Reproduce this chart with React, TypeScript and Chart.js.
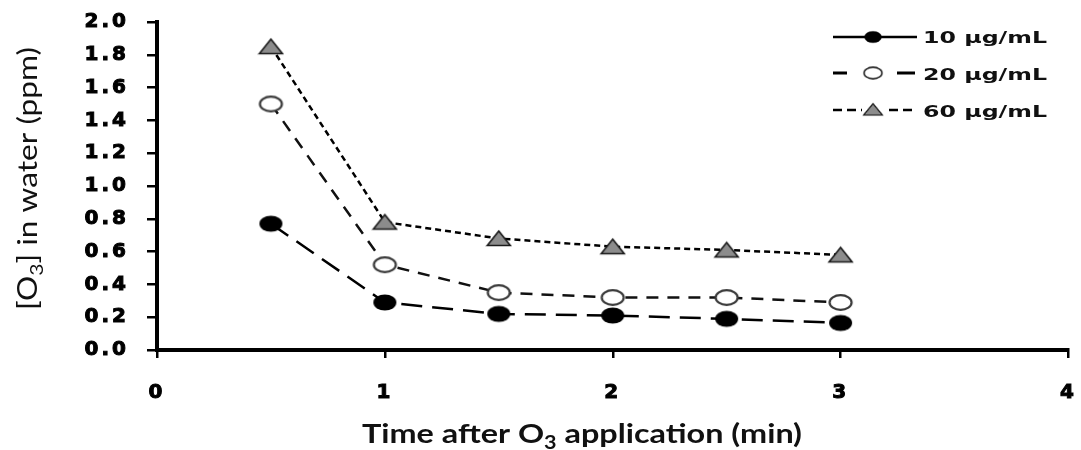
import React, { useEffect, useRef } from 'react';
import { Chart, registerables } from 'chart.js';

Chart.register(...registerables);

// ---- data ----
const timePoints = [0.5, 1, 1.5, 2, 2.5, 3];
const seriesLabels = ['10 µg/mL', '20 µg/mL', '60 µg/mL'];
const conc10 = [0.77, 0.29, 0.22, 0.21, 0.19, 0.165];
const conc20 = [1.5, 0.52, 0.35, 0.32, 0.32, 0.29];
const conc60 = [1.85, 0.78, 0.68, 0.63, 0.61, 0.58];
const xRange = [0, 4];
const xStep = 1;
const yRange = [0, 2];
const yStep = 0.2;
const xTitleParts = [{ t: 'Time after O' }, { t: '3', sub: true }, { t: ' application (min)' }];
const yTitleParts = [{ t: '[O' }, { t: '3', sub: true }, { t: '] in water (ppm)' }];

type Part = { t: string; sub?: boolean };

function makeMarker(kind: 'filled' | 'open' | 'tri'): HTMLCanvasElement {
  const c = document.createElement('canvas');
  c.width = 27;
  c.height = 19;
  const g = c.getContext('2d')!;
  g.beginPath();
  if (kind === 'tri') {
    g.moveTo(2, 16.5);
    g.lineTo(13.5, 2);
    g.lineTo(25, 16.5);
    g.closePath();
    g.fillStyle = '#8c8c8c';
    g.fill();
    g.lineWidth = 1.6;
    g.strokeStyle = '#1a1a1a';
    g.stroke();
  } else if (kind === 'filled') {
    g.ellipse(13.5, 9.5, 11.5, 8, 0, 0, Math.PI * 2);
    g.fillStyle = '#000';
    g.fill();
  } else {
    g.ellipse(13.5, 9.5, 11, 7.3, 0, 0, Math.PI * 2);
    g.fillStyle = '#fff';
    g.fill();
    g.lineWidth = 2.2;
    g.strokeStyle = '#3a3a3a';
    g.stroke();
  }
  return c;
}

function drawRich(ctx: CanvasRenderingContext2D, parts: Part[], size: number, weight: string, family: string, targetWidth: number) {
  const main = `${weight} ${size}px ${family}`;
  const sub = `${weight} ${Math.round(size * 0.65)}px ${family}`;
  let w = 0;
  for (const p of parts) {
    ctx.font = p.sub ? sub : main;
    w += ctx.measureText(p.t).width;
  }
  const s = targetWidth / w;
  ctx.save();
  ctx.scale(s, 1);
  let x = 0;
  for (const p of parts) {
    ctx.font = p.sub ? sub : main;
    ctx.fillText(p.t, x, p.sub ? size * 0.22 : 0);
    x += ctx.measureText(p.t).width;
  }
  ctx.restore();
}

export default function App() {
  const ref = useRef<HTMLCanvasElement>(null);

  useEffect(() => {
    const canvas = ref.current!;
    const mk = { filled: makeMarker('filled'), open: makeMarker('open'), tri: makeMarker('tri') };

    const decor = {
      id: 'decor',
      beforeDraw(chart: any) {
        (chart.ctx as any).letterSpacing = '3px';
      },
      beforeDatasetsDraw(chart: any) {
        (chart.ctx as any).letterSpacing = '0px';
      },
      afterDraw(chart: any) {
        const ctx: CanvasRenderingContext2D = chart.ctx;
        (ctx as any).letterSpacing = '0px';
        ctx.save();
        ctx.fillStyle = '#111';
        ctx.textBaseline = 'alphabetic';
        ctx.textAlign = 'left';
        // x title
        ctx.save();
        ctx.translate(362, 443);
        drawRich(ctx, xTitleParts, 27, 'bold', 'Lato', 440);
        ctx.restore();
        // y title
        ctx.save();
        ctx.translate(37, 310);
        ctx.rotate(-Math.PI / 2);
        drawRich(ctx, yTitleParts, 27, 'normal', 'Lato', 263);
        ctx.restore();

        // legend
        const rows = [37, 73, 110];
        const bases = [43, 80, 117];
        ctx.strokeStyle = '#000';
        ctx.lineCap = 'butt';
        // row 1 solid
        ctx.lineWidth = 2.5;
        ctx.setLineDash([]);
        ctx.beginPath();
        ctx.moveTo(833, rows[0]);
        ctx.lineTo(917, rows[0]);
        ctx.stroke();
        ctx.drawImage(mk.filled, 873 - 10, rows[0] - 7, 20, 14);
        // row 2
        ctx.lineWidth = 3;
        ctx.beginPath();
        ctx.moveTo(833, rows[1]);
        ctx.lineTo(847, rows[1]);
        ctx.moveTo(897, rows[1]);
        ctx.lineTo(915, rows[1]);
        ctx.stroke();
        ctx.drawImage(mk.open, 873 - 11, rows[1] - 7.5, 22, 15);
        // row 3
        ctx.lineWidth = 2.5;
        ctx.setLineDash([9, 5]);
        ctx.beginPath();
        ctx.moveTo(833, rows[2]);
        ctx.lineTo(917, rows[2]);
        ctx.stroke();
        ctx.setLineDash([]);
        ctx.fillStyle = '#fff';
        ctx.fillRect(862, rows[2] - 8, 22, 16);
        ctx.drawImage(mk.tri, 873 - 11, rows[2] - 8, 22, 15);
        // texts
        ctx.fillStyle = '#111';
        ctx.strokeStyle = '#111';
        ctx.lineWidth = 0.6;
        seriesLabels.forEach((lab, i) => {
          ctx.save();
          ctx.translate(923, bases[i]);
          drawRich(ctx, [{ t: lab }], 16.5, 'bold', '"DejaVu Sans"', 124);
          ctx.restore();
        });
        ctx.restore();
      },
    };

    const tickFont = { family: '"DejaVu Sans"', weight: 'bold' as const, size: 20 };

    const chart = new Chart(canvas, {
      type: 'line',
      data: {
        datasets: [
          {
            label: seriesLabels[0],
            data: timePoints.map((x, i) => ({ x, y: conc10[i] })),
            borderColor: '#000',
            borderWidth: 2.5,
            borderDash: [21, 10],
            pointStyle: mk.filled as any,
            pointRadius: 10,
            tension: 0,
            fill: false,
          },
          {
            label: seriesLabels[1],
            data: timePoints.map((x, i) => ({ x, y: conc20[i] })),
            borderColor: '#111',
            borderWidth: 2.5,
            borderDash: [12, 9],
            pointStyle: mk.open as any,
            pointRadius: 10,
            tension: 0,
            fill: false,
          },
          {
            label: seriesLabels[2],
            data: timePoints.map((x, i) => ({ x, y: conc60[i] })),
            borderColor: '#000',
            borderWidth: 2.5,
            borderDash: [6, 4],
            pointStyle: mk.tri as any,
            pointRadius: 10,
            tension: 0,
            fill: false,
          },
        ],
      },
      options: {
        responsive: false,
        animation: false,
        layout: { padding: { left: 0, top: 22, right: 8, bottom: 0 } },
        plugins: { legend: { display: false }, tooltip: { enabled: false } },
        scales: {
          x: {
            type: 'linear',
            min: xRange[0],
            max: xRange[1],
            ticks: {
              stepSize: xStep,
              font: tickFont,
              color: '#000',
              padding: 23,
              maxRotation: 0,
              autoSkip: false,
              textStrokeWidth: 1,
              textStrokeColor: '#000',
            },
            grid: { drawOnChartArea: false, drawTicks: true, tickLength: 8, color: '#000', lineWidth: 2.5 },
            border: { display: true, color: '#000', width: 4 },
            afterFit: (s: any) => {
              s.height = 100;
              s.paddingLeft = 0;
              s.paddingRight = 0;
            },
          },
          y: {
            type: 'linear',
            min: yRange[0],
            max: yRange[1],
            ticks: {
              stepSize: yStep,
              font: tickFont,
              color: '#000',
              padding: 18,
              autoSkip: false,
              textStrokeWidth: 1,
              textStrokeColor: '#000',
              callback: (v: any) => Number(v).toFixed(1),
            },
            grid: { drawOnChartArea: false, drawTicks: true, tickLength: 10, color: '#000', lineWidth: 2.5 },
            border: { display: true, color: '#000', width: 4 },
            afterFit: (s: any) => {
              s.width = 157;
              s.paddingTop = 0;
              s.paddingBottom = 0;
            },
          },
        },
      },
      plugins: [decor as any],
    });

    return () => chart.destroy();
  }, []);

  return (
    <div style={{ position: 'absolute', left: 0, top: 0, width: 1081, height: 450, background: '#fff' }}>
      <canvas ref={ref} width={1081} height={450} style={{ display: 'block', width: 1081, height: 450 }} />
    </div>
  );
}
